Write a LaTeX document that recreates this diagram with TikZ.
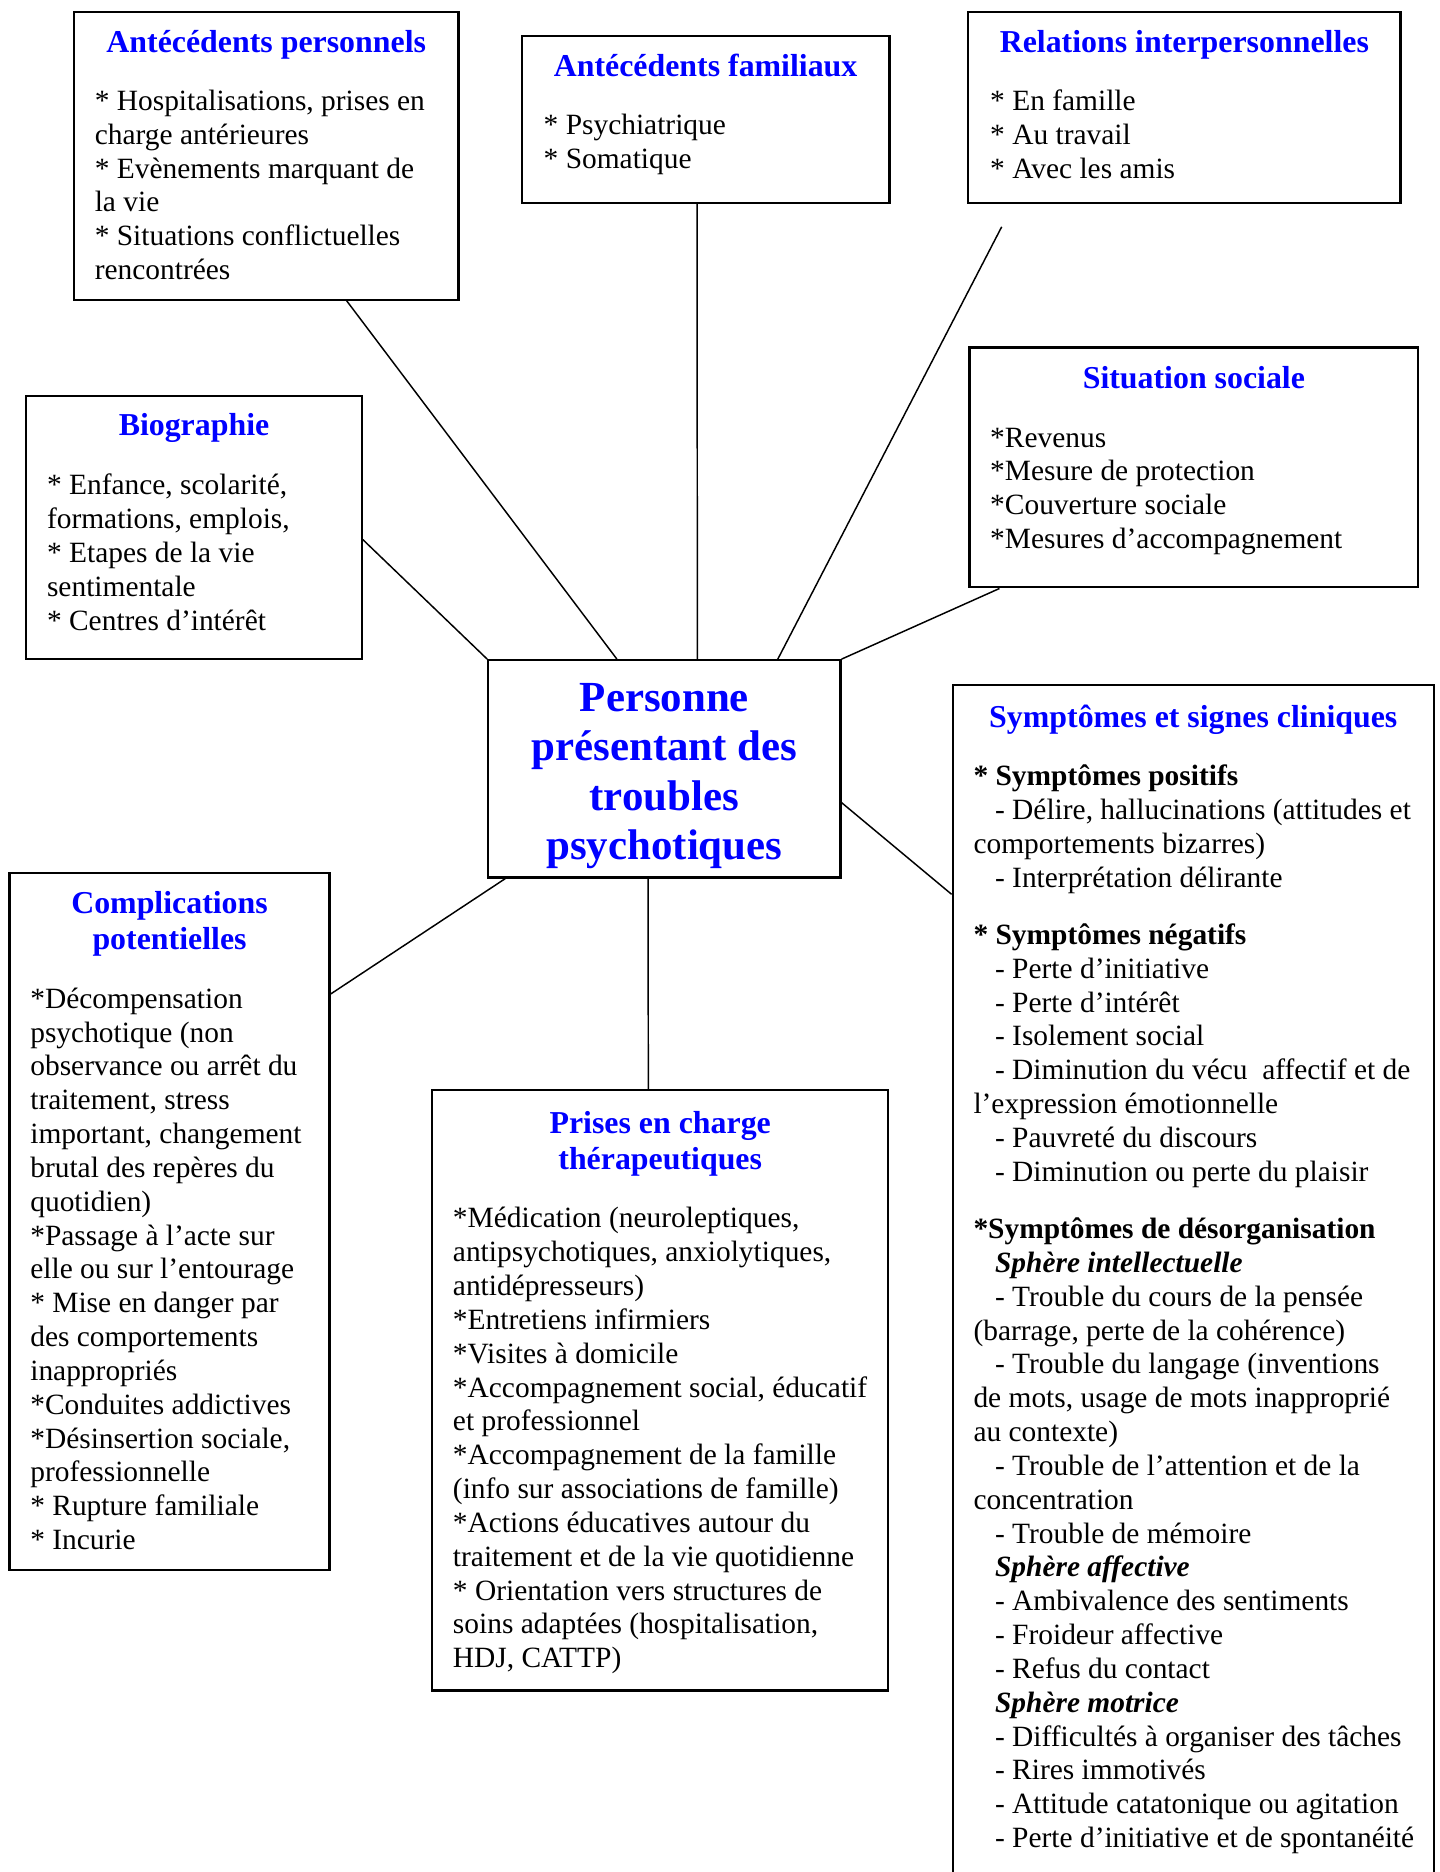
\documentclass[tikz,border=0pt]{standalone}
\usepackage{fontspec}
\setmainfont{Liberation Serif}
\usetikzlibrary{fit,calc}
\definecolor{ttlblue}{RGB}{0,0,255}
\newcommand\blk[2]{\parbox[t]{#1}{\fontsize{12}{13.8}\selectfont\raggedright #2}}
\newcommand\ttlbox[1]{\parbox[t]{260pt}{\centering\fontsize{13}{14.9}\selectfont\bfseries #1}}
\newcommand\ind{\hspace*{8.8pt}}
\begin{document}
\begin{tikzpicture}[x=0.487pt,y=-0.487pt,
  box/.style={draw, line width=0.9pt, inner sep=0pt},
  ttl/.style={anchor=base, inner sep=0pt, text=ttlblue},
  body/.style={anchor=base west, inner sep=0pt},
  link/.style={line width=0.6pt}]
\clip[use as bounding box] (0,0) rectangle (1206,1568);

% boxes
\node[box, fit={(62,10)(384,251)}] (ap) {};
\node[box, fit={(437,30)(745,170)}] (af) {};
\node[box, fit={(811,10)(1173,170)}] (ri) {};
\node[box, fit={(22,332)(303,552)}] (bio) {};
\node[box, fit={(812,291)(1188,492)}] (ss) {};
\node[box, fit={(409,553)(704,735)}] (ctr) {};
\node[box, fit={(798,574)(1201,1640)}] (ssc) {};
\node[box, fit={(8,731)(276,1315)}] (cp) {};
\node[box, fit={(362,913)(744,1416)}] (pec) {};

% titles
\node[ttl] (apT) at (223,44) {\ttlbox{Antécédents personnels}};
\node[ttl] (afT) at (591,64) {\ttlbox{Antécédents familiaux}};
\node[ttl] (riT) at (992,44) {\ttlbox{Relations interpersonnelles}};
\node[ttl] (bioT) at (162.5,365) {\ttlbox{Biographie}};
\node[ttl] (ssT) at (1000,325) {\ttlbox{Situation sociale}};
\node[ttl] (sscT) at (999.5,609) {\ttlbox{Symptômes et signes cliniques}};
\node[ttl] (cpT) at (142,765) {\ttlbox{Complications\\potentielles}};
\node[ttl] (pecT) at (553,949) {\ttlbox{Prises en charge\\thérapeutiques}};
\node[ttl] (ctrT) at (556.5,596) {\parbox[t]{200pt}{\centering\fontsize{17.5}{20.1}\selectfont\bfseries Personne\\présentant des\\troubles\\psychotiques}};

% bodies
\node[body] (apB) at (79,92.5) {\blk{300pt}{* Hospitalisations, prises en\\charge antérieures\\{}* Evènements marquant de\\la vie\\{}* Situations conflictuelles\\rencontrées}};
\node[body] (afB) at (455,112.5) {\blk{200pt}{* Psychiatrique\\{}* Somatique}};
\node[body] (riB) at (829,92.5) {\blk{200pt}{* En famille\\{}* Au travail\\{}* Avec les amis}};
\node[body] (bioB) at (39,414.5) {\blk{200pt}{* Enfance, scolarité,\\formations, emplois,\\{}* Etapes de la vie\\sentimentale\\{}* Centres d’intérêt}};
\node[body] (ssB) at (829,374.5) {\blk{200pt}{*Revenus\\{}*Mesure de protection\\{}*Couverture sociale\\{}*Mesures d’accompagnement}};
\node[body] (sscB) at (815,658) {\blk{300pt}{\textbf{* Symptômes positifs}\\
\ind- Délire, hallucinations (attitudes et\\
comportements bizarres)\\
\ind- Interprétation délirante\\[9.6pt]
\textbf{* Symptômes négatifs}\\
\ind- Perte d’initiative\\
\ind- Perte d’intérêt\\
\ind- Isolement social\\
\ind- Diminution du vécu\ \ affectif et de\\
l’expression émotionnelle\\
\ind- Pauvreté du discours\\
\ind- Diminution ou perte du plaisir\\[9.6pt]
\textbf{*Symptômes de désorganisation}\\
\ind\textbf{\itshape Sphère intellectuelle}\\
\ind- Trouble du cours de la pensée\\
(barrage, perte de la cohérence)\\
\ind- Trouble du langage (inventions\\
de mots, usage de mots inapproprié\\
au contexte)\\
\ind- Trouble de l’attention et de la\\
concentration\\
\ind- Trouble de mémoire\\
\ind\textbf{\itshape Sphère affective}\\
\ind- Ambivalence des sentiments\\
\ind- Froideur affective\\
\ind- Refus du contact\\
\ind\textbf{\itshape Sphère motrice}\\
\ind- Difficultés à organiser des tâches\\
\ind- Rires immotivés\\
\ind- Attitude catatonique ou agitation\\
\ind- Perte d’initiative et de spontanéité}};
\node[body] (cpB) at (25,844.5) {\blk{200pt}{*Décompensation\\psychotique (non\\observance ou arrêt du\\traitement, stress\\important, changement\\brutal des repères du\\quotidien)\\{}*Passage à l’acte sur\\elle ou sur l’entourage\\{}* Mise en danger par\\des comportements\\inappropriés\\{}*Conduites addictives\\{}*Désinsertion sociale,\\professionnelle\\{}* Rupture familiale\\{}* Incurie}};
\node[body] (pecB) at (379,1028.5) {\blk{200pt}{*Médication (neuroleptiques,\\antipsychotiques, anxiolytiques,\\antidépresseurs)\\{}*Entretiens infirmiers\\{}*Visites à domicile\\{}*Accompagnement social, éducatif\\et professionnel\\{}*Accompagnement de la famille\\(info sur associations de famille)\\{}*Actions éducatives autour du\\traitement et de la vie quotidienne\\{}* Orientation vers structures de\\soins adaptées (hospitalisation,\\HDJ, CATTP)}};

% connectors
\coordinate (riend) at (839,190);
\coordinate (sscin) at ($(ssc.north west)+(0,176)$);
\draw[link] ($(ap.south west)!0.708!(ap.south east)$) -- ($(ctr.north west)!0.366!(ctr.north east)$);
\draw[link] ($(af.south west)!0.477!(af.south east)$) -- ($(ctr.north west)!0.593!(ctr.north east)$);
\draw[link] (riend) -- ($(ctr.north west)!0.820!(ctr.north east)$);
\draw[link] ($(bio.north east)!0.545!(bio.south east)$) -- (ctr.north west);
\draw[link] ($(ss.south west)!0.069!(ss.south east)$) -- (ctr.north east);
\draw[link] ($(ctr.north east)!0.654!(ctr.south east)$) -- (sscin);
\draw[link] ($(cp.north east)!0.175!(cp.south east)$) -- ($(ctr.south west)!0.051!(ctr.south east)$);
\draw[link] ($(ctr.south west)!0.454!(ctr.south east)$) -- ($(pec.north west)!0.474!(pec.north east)$);
\end{tikzpicture}
\end{document}
